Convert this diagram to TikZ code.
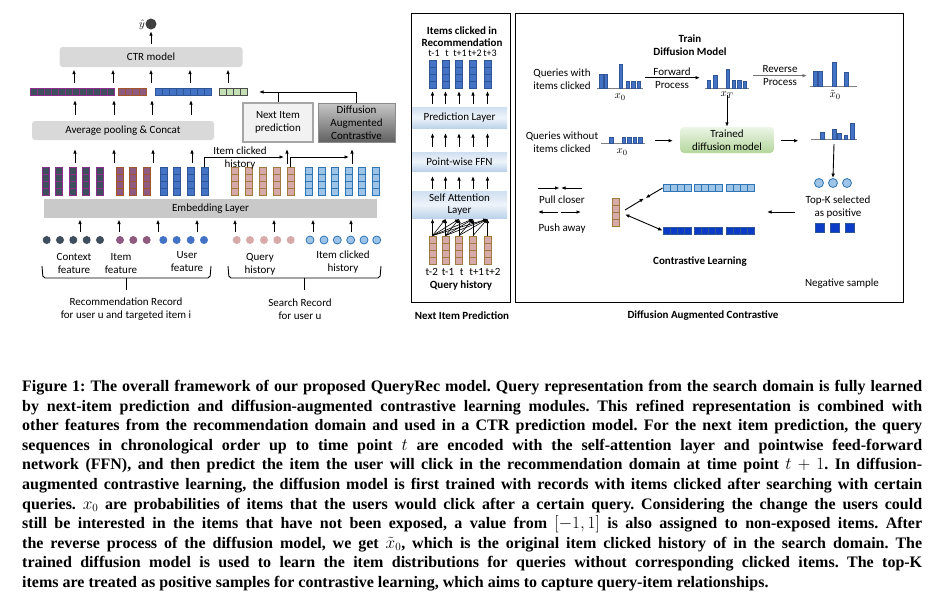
\documentclass[tikz,border=0pt]{standalone}
\usepackage{fontspec}
\setmainfont{Carlito}
\newfontfamily\capfont{Liberation Serif}
\usetikzlibrary{arrows.meta}

\definecolor{boxgray}{HTML}{D9D9D9}
\definecolor{embgray}{HTML}{C9C9C9}
\definecolor{slate}{HTML}{3E4E5C}
\definecolor{plum}{HTML}{8B2F8B}
\definecolor{mauve}{HTML}{8E5A80}
\definecolor{rust}{HTML}{A0552C}
\definecolor{midblue}{HTML}{4472C4}
\definecolor{deepblue}{HTML}{2F5597}
\definecolor{qpink}{HTML}{D8A9A9}
\definecolor{qtan}{HTML}{9C7B3C}
\definecolor{skyblue}{HTML}{9DC3E6}
\definecolor{skyedge}{HTML}{2E75B6}
\definecolor{mint}{HTML}{C5E0B4}
\definecolor{negblue}{HTML}{0A3CC8}
\definecolor{bandtop}{HTML}{CFDFF0}
\definecolor{bandmid}{HTML}{EEF4FA}
\definecolor{bandbot}{HTML}{BDD3EA}
\definecolor{greentop}{HTML}{ECF5E6}
\definecolor{greenbot}{HTML}{B4D69C}

\newcommand{\capline}[1]{\hbox to 900pt{#1}}

\tikzset{
  arr/.style={-{Latex[length=4.5pt,width=3.6pt]}, line width=0.9pt},
  txt/.style={align=center, inner sep=0pt},
  bold/.style={txt, font=\fontsize{11}{13}\selectfont\bfseries},
  graybox/.style={fill=boxgray, rounded corners=3pt, inner sep=0pt},
  band/.style={top color=bandtop, bottom color=bandbot, middle color=bandmid, inner sep=0pt, minimum width=95pt, align=center},
  vcol/.style 2 args={draw=#2, fill=#1, line width=0.8pt, minimum width=7pt, minimum height=28pt, inner sep=0pt,
    path picture={\foreach \k in {7,14,21} \draw[#2, line width=0.8pt] ([yshift=\k*1pt]path picture bounding box.south west) -- ([yshift=\k*1pt]path picture bounding box.south east);}},
  hrow/.style n args={3}{draw=#2, fill=#1, line width=0.8pt, minimum width=#3*7pt, minimum height=7pt, inner sep=0pt,
    path picture={\foreach \k in {2,...,#3} \draw[#2, line width=0.8pt] ([xshift=\k*7pt-7pt]path picture bounding box.south west) -- ([xshift=\k*7pt-7pt]path picture bounding box.north west);}},
  dot/.style={circle, inner sep=0pt, minimum size=8pt},
  histbar/.style={fill=midblue, draw=deepblue, line width=0.4pt},
  baseln/.style={draw=gray, line width=1pt}
}

\begin{document}
\begin{tikzpicture}[x=1pt, y=-1pt, font=\fontsize{11}{13}\selectfont]
\useasboundingbox (0,0) rectangle (935,606);

% CTR part
\node[circle, fill=black!75, minimum size=11pt, inner sep=0pt] (yhat) at (151,24) {};
\node[txt, anchor=east] (yhatlab) at (145,25) {$\hat{y}$};
\node[graybox, minimum width=183pt, minimum height=20pt] (ctr) at (151,57) {CTR model};
\draw[arr, shorten <=3pt, shorten >=1.5pt] (ctr.north) -- (yhat.south);

\node[hrow={slate}{plum}{12}] (vctx) at (72.5,91.5) {};
\node[hrow={mauve}{rust}{4}] (vitem) at (132.5,91.5) {};
\node[hrow={midblue}{deepblue}{8}] (vuser) at (183.5,91.5) {};
\node[hrow={mint}{black!70}{4}] (vquery) at (233,91.5) {};
\foreach \x [count=\i] in {74,113,151,190,228} {
  \coordinate (ca\i) at (\x,83); \coordinate (cb\i) at (\x,69.5);
  \draw[arr] (ca\i) -- (cb\i);
}

\node[graybox, minimum width=182pt, minimum height=19pt] (pool) at (123,130.5) {Average pooling \& Concat};
\foreach \x [count=\i] in {75,114,152,191} {
  \coordinate (pa\i) at (\x,115); \coordinate (pb\i) at (\x,100);
  \draw[arr] (pa\i) -- (pb\i);
}

\node[txt, fill=black!5, draw=black!35, line width=1.5pt, minimum width=70pt, minimum height=39pt] (next) at (278,122.5) {Next Item\\prediction};
\node[txt, top color=black!22, bottom color=black!62, draw=black!45, line width=1pt, minimum width=77pt, minimum height=39pt] (diff) at (356.5,122.5) {Diffusion\\Augmented\\Contrastive};
\coordinate (joinend) at (259,92);
\draw[arr] (diff.north) |- (joinend);
\draw[line width=0.9pt] (next.north) -- (next.north |- joinend);

% embeddings
\foreach \x [count=\i] in {45.5,59.1,72.7,86.3,99.9} \node[vcol={slate}{plum}] (ctx\i) at (\x,181.5) {};
\foreach \x [count=\i] in {120,133.3,146.6} \node[vcol={mauve}{rust}] (itm\i) at (\x,181.5) {};
\foreach \x [count=\i] in {163.5,177,190.5,204.5} \node[vcol={midblue}{deepblue}] (usr\i) at (\x,181.5) {};
\foreach \x [count=\i] in {234.5,248.5,262.5,276.5,290.5} \node[vcol={qpink}{qtan}] (qry\i) at (\x,181.5) {};
\foreach \x [count=\i] in {308.5,321.9,335.3,348.7,362.1,375.5} \node[vcol={skyblue}{skyedge}] (clk\i) at (\x,181.5) {};

\foreach \x [count=\i] in {75,114,153,192} {
  \coordinate (ea\i) at (\x,163); \coordinate (eb\i) at (\x,149);
  \draw[arr] (ea\i) -- (eb\i);
}
\coordinate (hop1) at (284,157);
\coordinate (hop2) at (349,157);
\draw[arr] (usr4.north) |- (hop1);
\draw[arr] (qry5.north) |- (hop2);
\foreach \x [count=\i] in {287,352} {
  \coordinate (ha\i) at (\x,164); \coordinate (hb\i) at (\x,149);
  \draw[arr] (ha\i) -- (hb\i);
}
\node[txt] (clicklab) at (240,158) {Item clicked\\history};

\node[fill=embgray, minimum width=333pt, minimum height=19pt, inner sep=0pt] (emb) at (210.5,208.5) {Embedding Layer};
\foreach \x [count=\i] in {80,119,158,197,235,274,313,351} {
  \coordinate (da\i) at (\x,232); \coordinate (db\i) at (\x,219.5);
  \draw[arr] (da\i) -- (db\i);
}

% raw features
\foreach \x [count=\i] in {46.7,60,73.3,86.7,100} \node[dot, fill=slate] (fctx\i) at (\x,240) {};
\foreach \x [count=\i] in {120,133.3,146.7} \node[dot, fill=mauve] (fitm\i) at (\x,240) {};
\foreach \x [count=\i] in {163.3,176.7,190.7,204} \node[dot, fill=midblue] (fusr\i) at (\x,240) {};
\foreach \x [count=\i] in {236.7,250,264,277.3,290.7} \node[dot, fill=qpink] (fqry\i) at (\x,240) {};
\foreach \x [count=\i] in {310,324,337.3,350.7,364,376.7} \node[dot, fill=skyblue, draw=skyedge, line width=0.8pt] (fclk\i) at (\x,240) {};

\node[txt] (ctxlab) at (74,263.5) {Context\\feature};
\node[txt] (itmlab) at (121,263.5) {Item\\feature};
\node[txt] (usrlab) at (187,262) {User\\feature};
\node[txt] (qrylab) at (260,264) {Query\\history};
\node[txt] (clklab) at (343,262.5) {Item clicked\\history};

\draw[line width=0.9pt, rounded corners=2pt] (42,266) -- (43,278) -- (210,278) -- (211,266);
\draw[line width=0.9pt] (126.5,278) -- (126.5,290);
\draw[line width=0.9pt, rounded corners=2pt] (228,266) -- (229,278) -- (380,278) -- (381,266);
\draw[line width=0.9pt] (304,278) -- (304,290);
\node[txt] (reclab) at (126,309) {Recommendation Record\\for user u and targeted item i};
\node[txt] (srchlab) at (300,309) {Search Record\\for user u};

% next item prediction
\draw[line width=0.8pt] (411,13) rectangle (510,302);
\node[bold, font=\fontsize{11}{12.5}\selectfont\bfseries] (nititle) at (462,36.5) {Items clicked in\\Recommendation};
\foreach \x/\t [count=\i] in {434/t-1,447/t,460/t+1,475/t+2,490/t+3} \node[txt, font=\fontsize{10}{12}\selectfont] (tr\i) at (\x,53.5) {\t};
\foreach \x [count=\i] in {432.5,445.5,459,473,487.5} {
  \node[vcol={midblue}{deepblue}] (rc\i) at (\x,74.5) {};
  \node[vcol={qpink}{qtan}] (qc\i) at (\x,250) {};
  \coordinate (na\i) at (\x,104); \coordinate (nb\i) at (\x,91);
  \coordinate (ma\i) at (\x,147); \coordinate (mb\i) at (\x,133);
  \coordinate (la\i) at (\x,189); \coordinate (lb\i) at (\x,176);
  \coordinate (sa\i) at (\x,219);
  \draw[arr] (na\i) -- (nb\i);
  \draw[arr] (ma\i) -- (mb\i);
  \draw[arr] (la\i) -- (lb\i);
}
\node[band, minimum height=21pt] (pred) at (459.5,117.5) {Prediction Layer};
\node[band, minimum height=19pt] (ffn) at (459.5,161.5) {Point-wise FFN};
\node[band, minimum height=27pt, font=\fontsize{11}{12.3}\selectfont] (satt) at (459.5,204.5) {Self Attention\\Layer};
\foreach \i in {1,...,5} {
  \foreach \j in {\i,...,5} {
    \draw[-{Latex[length=4pt,width=3.4pt]}, line width=0.6pt] (qc\i.north) -- (sa\j);
  }
}
\foreach \x/\t [count=\i] in {431.7/t-2,448/t-1,461.7/t,476.7/t+1,493/t+2} \node[txt] (tq\i) at (\x,272) {\t};
\node[bold] (qhist) at (461,285) {Query history};
\node[bold] (nicap) at (462,316) {Next Item Prediction};

% diffusion augmented contrastive
\draw[line width=0.8pt] (515,13) rectangle (903,302);
\node[bold] (traintitle) at (690,45) {Train\\Diffusion Model};
\node[txt] (qwith) at (562,79) {Queries with\\items clicked};
\draw[baseln] (597,88) -- (643,88);
\foreach \a/\b/\t in {599.3/602.7/74,604/607.3/74,618.7/622/64,626/629.3/81,631.3/634.7/81,636.7/640/81}
  \draw[histbar] (\a,88) rectangle (\b,\t);
\node[txt] (x0a) at (620,97) {$x_0$};
\coordinate (fwa) at (645,77.7); \coordinate (fwb) at (700,77.7);
\draw[arr] (fwa) -- (fwb);
\node[txt] (fwlab) at (672,78) {Forward\\Process};
\draw[baseln] (705,88) -- (749,88);
\foreach \a/\b/\t in {707/710/80,713.3/717.3/75,726/729.3/69,731.7/735/80,737.3/740.7/80,742.7/746/81}
  \draw[histbar] (\a,88) rectangle (\b,\t);
\node[txt] (xT) at (727,95) {$x_T$};
\coordinate (rva) at (753,75.7); \coordinate (rvb) at (807,75.7);
\draw[arr, draw=black!55, -{Latex[length=4.5pt,width=3.6pt,fill=black]}] (rva) -- (rvb);
\node[txt] (rvlab) at (780,76) {Reverse\\Process};
\draw[baseln] (810,86) -- (857,86);
\foreach \a/\b/\t in {812.7/816.7/71,818.3/822.3/71,832.3/836.3/62,844/848/72}
  \draw[histbar] (\a,86) rectangle (\b,\t);
\node[txt] (xtil) at (835,95) {$\tilde{x}_0$};

\node[txt, top color=greentop, bottom color=greenbot, rounded corners=4pt, minimum width=94pt, minimum height=26pt] (trained) at (727,140) {Trained\\diffusion model};
\draw[arr] (xT.south) ++(0,-3) coordinate (xTs) -- (trained.north);
\node[txt] (qwithout) at (562,142.5) {Queries without\\items clicked};
\draw[baseln] (601,143) -- (645,143);
\foreach \a/\b in {609/613,621.7/625,627.3/630.7,632.7/636,638.3/641.7}
  \draw[histbar] (\a,143) rectangle (\b,137);
\node[txt] (x0b) at (622,152) {$x_0$};
\coordinate (ina) at (655,140.7); \coordinate (inb) at (673,140.7);
\draw[arr] (ina) -- (inb);
\coordinate (outa) at (780.5,140.7); \coordinate (outb) at (798.5,140.7);
\draw[arr] (outa) -- (outb);
\draw[baseln] (811,139) -- (857,139);
\foreach \a/\b/\t in {820/824/131.7,831.7/835.7/129.3,837.3/840.7/132.7,844/847.3/134.7,850/854.3/122.7}
  \draw[histbar] (\a,139) rectangle (\b,\t);
\coordinate (topka) at (834,144);
\foreach \x [count=\i] in {819,833,847} \node[circle, fill=skyblue, draw=skyedge, line width=0.8pt, minimum size=9pt, inner sep=0pt] (pos\i) at (\x,183) {};
\draw[arr] (topka) -- (pos2.north);
\node[txt] (topklab) at (838,207) {Top-K selected\\as positive};
\foreach \x [count=\i] in {820,835,850} \node[fill=negblue, draw=deepblue, line width=0.6pt, minimum size=8.5pt, inner sep=0pt] (neg\i) at (\x,228) {};
\node[txt] (neglab) at (842,284) {Negative sample};
\coordinate (sela) at (795,212); \coordinate (selb) at (767,212);
\draw[arr] (sela) -- (selb);

\node[vcol={qpink}{qtan}] (cq) at (616,212) {};
\foreach \x [count=\i] in {677,708.5,740} {
  \node[hrow={skyblue}{skyedge}{4}] (pr\i) at (\x,188) {};
  \node[hrow={negblue}{deepblue}{4}] (nr\i) at (\x,230.5) {};
}
\coordinate (pullmid) at (644,198.5);
\draw[arr] (625,210) -- (pullmid);
\draw[arr] (pr1.west) -- (645.5,198);
\draw[{Latex[length=4.5pt,width=3.6pt]}-{Latex[length=4.5pt,width=3.6pt]}, line width=0.9pt] (625,214.3) -- (nr1.west);
\node[bold] (cltitle) at (700,262) {Contrastive Learning};

\coordinate (pc1) at (538,188); \coordinate (pc2) at (559.5,188);
\coordinate (pc3) at (582,188); \coordinate (pc4) at (561,188);
\draw[arr] (pc1) -- (pc2);
\draw[arr] (pc3) -- (pc4);
\node[txt] (pulllab) at (562,199.5) {Pull closer};
\coordinate (pa1) at (558,212); \coordinate (pa2) at (538,212);
\coordinate (pa3) at (561,212); \coordinate (pa4) at (581,212);
\draw[arr] (pa1) -- (pa2);
\draw[arr] (pa3) -- (pa4);
\node[txt] (pushlab) at (562,228.5) {Push away};
\node[bold] (dacap) at (703,316) {Diffusion Augmented Contrastive};

% caption
\node[anchor=base west, inner sep=0pt, font=\capfont\bfseries\frenchspacing\fontsize{16}{19.6}\selectfont] (caption) at (22,391.5) {\vtop{%
\capline{Figure 1: The overall framework of our proposed QueryRec model. Query representation from the search domain is fully learned}
\capline{by next-item prediction and diffusion-augmented contrastive learning modules. This refined representation is combined with}
\capline{other features from the recommendation domain and used in a CTR prediction model. For the next item prediction, the query}
\capline{sequences in chronological order up to time point $t$ are encoded with the self-attention layer and pointwise feed-forward}
\capline{network (FFN), and then predict the item the user will click in the recommendation domain at time point $t+1$. In diffusion-}
\capline{augmented contrastive learning, the diffusion model is first trained with records with items clicked after searching with certain}
\capline{queries. $x_0$ are probabilities of items that the users would click after a certain query. Considering the change the users could}
\capline{still be interested in the items that have not been exposed, a value from $[-1,1]$ is also assigned to non-exposed items. After}
\capline{the reverse process of the diffusion model, we get \smash{$\tilde{x}_0$}, which is the original item clicked history of in the search domain. The}
\capline{trained diffusion model is used to learn the item distributions for queries without corresponding clicked items. The top-K}
\hbox{items are treated as positive samples for contrastive learning, which aims to capture query-item relationships.}}};
\end{tikzpicture}
\end{document}
